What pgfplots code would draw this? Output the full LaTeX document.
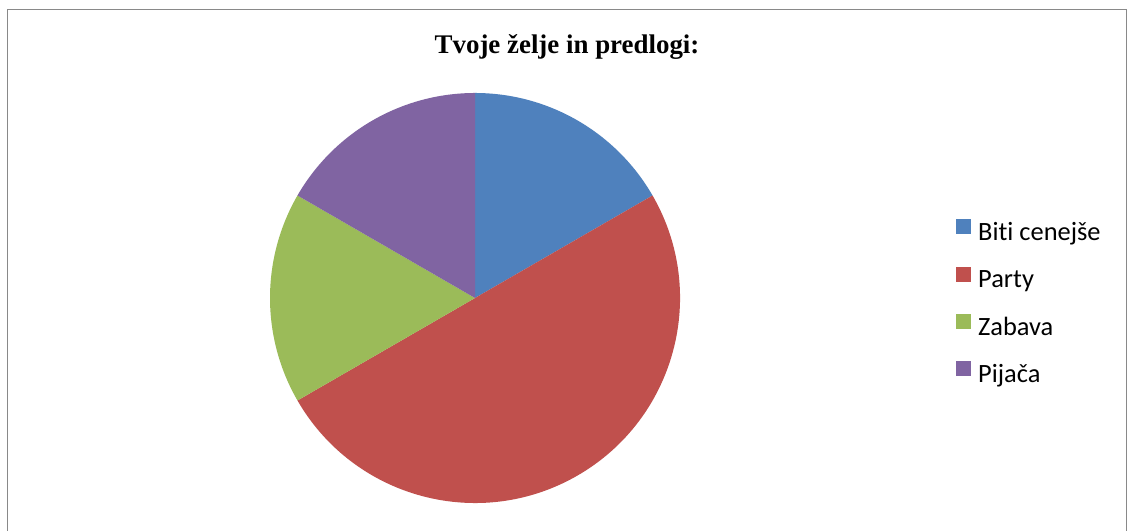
\documentclass[border=0pt]{standalone}
\usepackage{pgfplots}
\usepackage{pgfplotstable}
\pgfplotsset{compat=1.18}
\usepackage{fontspec}
\setmainfont{Liberation Serif}
\newfontfamily\legfont[RawFeature=-liga]{Carlito}
\definecolor{cA}{HTML}{4F81BD}
\definecolor{cB}{HTML}{C0504D}
\definecolor{cC}{HTML}{9BBB59}
\definecolor{cD}{HTML}{8064A2}
\definecolor{frame}{HTML}{898989}
\pgfplotstableread[col sep=comma]{
label,value
Biti cenejše,1
Party,3
Zabava,1
Pijača,1
}\piedata
\begin{document}
\begin{tikzpicture}[x=1bp,y=1bp]
\pgfplotstablegetelem{0}{value}\of\piedata\edef\vA{\pgfplotsretval}
\pgfplotstablegetelem{1}{value}\of\piedata\edef\vB{\pgfplotsretval}
\pgfplotstablegetelem{2}{value}\of\piedata\edef\vC{\pgfplotsretval}
\pgfplotstablegetelem{3}{value}\of\piedata\edef\vD{\pgfplotsretval}
\pgfmathsetmacro\tot{\vA+\vB+\vC+\vD}
\pgfmathsetmacro\aA{90}
\pgfmathsetmacro\aB{\aA-360*\vA/\tot}
\pgfmathsetmacro\aC{\aB-360*\vB/\tot}
\pgfmathsetmacro\aD{\aC-360*\vC/\tot}
\pgfmathsetmacro\aE{\aD-360*\vD/\tot}
\useasboundingbox (0,0) rectangle (1128,531);
\fill[white] (0,0) rectangle (1128,531);
\draw[frame, line width=1.5bp] (7.5,-5) rectangle (1126.5,521.5);
\begin{axis}[at={(0,0)}, anchor=south west,
  xmin=0, xmax=1128, ymin=0, ymax=531,
  width=1128bp, height=531bp, scale only axis, hide axis, clip=false,
  legend style={draw=none, fill=none, at={(axis cs:956,312)}, anchor=north west,
    font=\legfont\fontsize{26.5}{30}\selectfont, row sep=22.7bp, inner sep=0pt,
    nodes={inner sep=2bp}},
  legend cell align=left,
  legend image code/.code={\path[draw=none, fill=none] (0bp,0bp) -- (20bp,0bp);\fill[#1, draw=none] (0bp,-2bp) rectangle (15bp,13bp);},
]
\fill[cA] (axis cs:475,233) -- ++(\aA:205bp) arc[start angle=\aA, end angle=\aB, radius=205bp] -- cycle;
\fill[cB] (axis cs:475,233) -- ++(\aB:205bp) arc[start angle=\aB, end angle=\aC, radius=205bp] -- cycle;
\fill[cC] (axis cs:475,233) -- ++(\aC:205bp) arc[start angle=\aC, end angle=\aD, radius=205bp] -- cycle;
\fill[cD] (axis cs:475,233) -- ++(\aD:205bp) arc[start angle=\aD, end angle=\aE, radius=205bp] -- cycle;
\node[font=\bfseries\fontsize{27}{30}\selectfont, anchor=base] at (axis cs:567,477) {Tvoje želje in predlogi:};
\addlegendimage{fill=cA}\addlegendentry{Biti cenejše}
\addlegendimage{fill=cB}\addlegendentry{Party}
\addlegendimage{fill=cC}\addlegendentry{Zabava}
\addlegendimage{fill=cD}\addlegendentry{Pijača}
\end{axis}
\end{tikzpicture}
\end{document}
